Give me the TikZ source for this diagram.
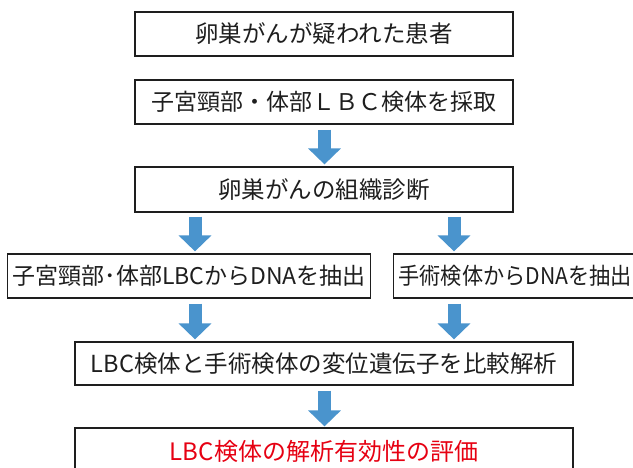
\documentclass[tikz,border=0pt]{standalone}
\usepackage{fontspec}
\setmainfont{Noto Sans CJK JP}
\usetikzlibrary{arrows.meta}
\definecolor{arrowblue}{RGB}{74,148,205}
\definecolor{alertred}{RGB}{230,0,18}
\definecolor{boxline}{RGB}{30,30,30}
\definecolor{boxtext}{RGB}{30,30,30}
\begin{document}
\begin{tikzpicture}[x=1pt,y=-1pt,
  box/.style={draw=boxline, line width=1.2pt, minimum height=44pt, inner xsep=5pt, inner ysep=0pt,
    font=\fontsize{23.5}{23.5}\selectfont, text=boxtext},
  bigarrow/.style={draw=arrowblue, line width=13pt, -{Triangle[width=32pt,length=16pt]}}]
\useasboundingbox (0,0) rectangle (633,468);
\clip (0,0) rectangle (633,468);
\node[box, minimum width=378pt] (b1) at (324,34) {卵巣がんが疑われた患者};
\node[box, minimum width=378pt, font=\fontsize{23}{23}\selectfont] (b2) at (324,102) {子宮頸部・体部ＬＢＣ検体を採取};
\node[box, minimum width=378pt, minimum height=45pt] (b3) at (324,189.5) {卵巣がんの組織診断};
\node[box, anchor=west, font=\fontsize{23}{23}\selectfont] (b4) at (7,276) {子宮頸部･体部LBCからDNAを抽出};
\node[box, anchor=west, font=\fontsize{23}{23}\selectfont\addfontfeature{FakeStretch=0.92}] (b5) at (393,276) {手術検体からDNAを抽出};
\node[box, minimum width=498pt, minimum height=43pt] (b6) at (324,363.5) {LBC検体と手術検体の変位遺伝子を比較解析};
\node[box, minimum width=498pt, minimum height=46pt, text=alertred, font=\fontsize{24}{24}\selectfont] (b7) at (324,451) {LBC検体の解析有効性の評価};
\coordinate (aM) at (324.5,0);
\coordinate (aL) at (195,0);
\coordinate (aR) at (454,0);
\draw[bigarrow] ([yshift=-5pt]b2.south -| aM) -- ([yshift=2pt]b3.north -| aM);
\draw[bigarrow] ([yshift=-4pt]b3.south -| aL) -- ([yshift=2pt]b4.north -| aL);
\draw[bigarrow] ([yshift=-4pt]b3.south -| aR) -- ([yshift=2pt]b5.north -| aR);
\draw[bigarrow] ([yshift=-5pt]b4.south -| aL) -- ([yshift=2pt]b6.north -| aL);
\draw[bigarrow] ([yshift=-5pt]b5.south -| aR) -- ([yshift=2pt]b6.north -| aR);
\draw[bigarrow] ([yshift=-5pt]b6.south -| aM) -- ([yshift=1pt]b7.north -| aM);
\end{tikzpicture}
\end{document}
